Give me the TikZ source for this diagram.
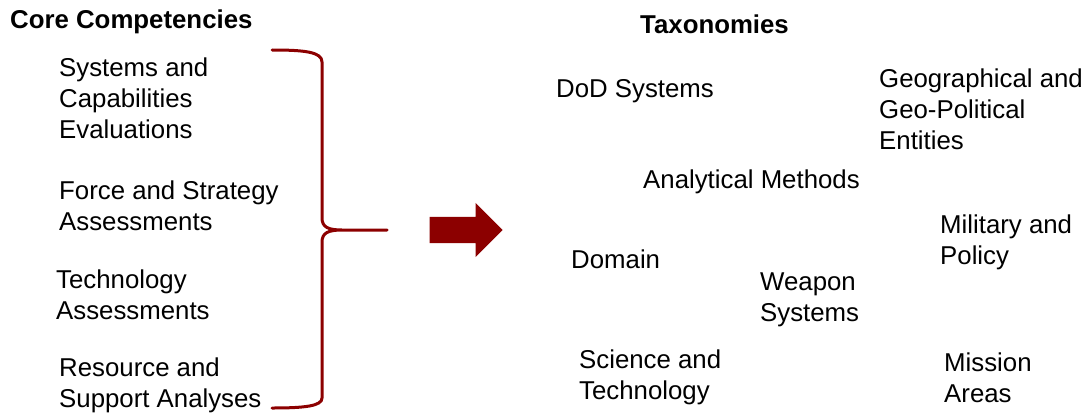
\documentclass[tikz,border=0pt]{standalone}
\usepackage{fontspec}
\setmainfont{Liberation Sans}
\usepackage{tikz}
\usetikzlibrary{positioning, shapes.arrows}
\definecolor{braceRed}{RGB}{140,0,0}
\tikzset{
x=1pt, y=-1pt, % one unit is one pixel of the sketch, y runs down
item/.style={anchor=base west, inner sep=0pt, align=left,
  font=\fontsize{25.8}{31}\selectfont}, % sets the properties for each text node (base = last line)
head/.style={item, font=\fontsize{25.8}{31}\selectfont\bfseries}, % column titles
brace/.style={draw=braceRed, line width=3pt, line cap=round}, % the curly bracket
}

\begin{document}
\begin{tikzpicture}
                \useasboundingbox (0,0) rectangle (1086,412);

                \node[head] (cc) at (10,29) {Core Competencies};
                \node[item] (c1) at (59,138) {Systems and\\Capabilities\\Evaluations};
                \node[item] (c2) at (59,230) {Force and Strategy\\Assessments};
                \node[item] (c3) at (56,319) {Technology\\Assessments};
                \node[item] (c4) at (59,407) {Resource and\\Support Analyses};

                \coordinate (btop) at (272,50);
                \coordinate (btip) at (387,230);
                \coordinate (bbot) at (272,408);
                \draw[brace]
                    (btop) .. controls (305,50) and (322,52) .. (322,62) -- (322,218)
                    .. controls (322,227) and (328,230) .. (342,230) -- (btip)
                    (342,230) .. controls (328,230) and (322,233) .. (322,242) -- (322,398)
                    .. controls (322,406) and (305,408) .. (bbot);

                \node[single arrow, fill=braceRed, inner sep=0pt, text height=13pt, text depth=13pt,
                    minimum height=73pt, single arrow head extend=14pt, anchor=tip] (arr) at (503,230) {};

                \node[head] (tx) at (640,34) {Taxonomies};
                \node[item] (t1) at (556,97) {DoD Systems};
                \node[item] (t2) at (879,149) {Geographical and\\Geo-Political\\Entities};
                \node[item] (t3) at (643,188) {Analytical Methods};
                \node[item] (t4) at (940,264) {Military and\\Policy};
                \node[item] (t5) at (571,268) {Domain};
                \node[item] (t6) at (760,321) {Weapon\\Systems};
                \node[item] (t7) at (579,399) {Science and\\Technology};
                \node[item] (t8) at (944,402) {Mission\\Areas};
\end{tikzpicture}
\end{document}
